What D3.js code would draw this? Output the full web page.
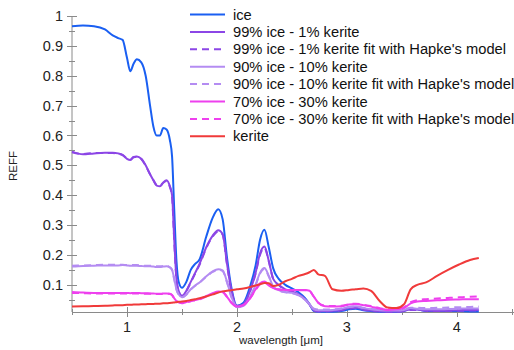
<!DOCTYPE html>
<html>
<head>
<meta charset="utf-8">
<script src="https://cdn.jsdelivr.net/npm/d3@7"></script>
<style>
  body { margin: 0; background: #fff; }
  svg { font-family: "Liberation Sans", Arial, Helvetica, sans-serif; }
</style>
</head>
<body>
<svg width="514" height="350"></svg>
<script>
// wavelength grid (micrometres)
var wavelength = [0.50, 0.60, 0.70, 0.80, 0.87, 0.92, 0.96, 1.00, 1.03, 1.06,
  1.09, 1.13, 1.17, 1.21, 1.24, 1.27, 1.30, 1.33, 1.36, 1.39,
  1.41, 1.43, 1.45, 1.47, 1.50, 1.54, 1.58, 1.62, 1.66, 1.72,
  1.78, 1.83, 1.87, 1.91, 1.95, 2.00, 2.06, 2.12, 2.17, 2.21,
  2.25, 2.29, 2.33, 2.38, 2.44, 2.50, 2.56, 2.62, 2.66, 2.70,
  2.74, 2.80, 2.87, 2.95, 3.02, 3.08, 3.15, 3.22, 3.30, 3.37,
  3.45, 3.52, 3.58, 3.64, 3.72, 3.82, 3.92, 4.02, 4.12, 4.20];

var ice = [0.966, 0.968, 0.966, 0.955, 0.935, 0.926, 0.92, 0.86, 0.815, 0.84,
  0.855, 0.845, 0.80, 0.70, 0.63, 0.60, 0.60, 0.625, 0.62, 0.585,
  0.53, 0.35, 0.18, 0.11, 0.09, 0.11, 0.15, 0.17, 0.185, 0.26,
  0.325, 0.353, 0.32, 0.19, 0.09, 0.03, 0.04, 0.095, 0.165, 0.25,
  0.284, 0.225, 0.155, 0.12, 0.10, 0.088, 0.075, 0.055, 0.035, 0.012,
  0.01, 0.01, 0.01, 0.012, 0.018, 0.02, 0.015, 0.012, 0.01, 0.01,
  0.01, 0.012, 0.02, 0.018, 0.012, 0.012, 0.012, 0.012, 0.011, 0.011];

var ice99 = [0.546, 0.537, 0.54, 0.542, 0.542, 0.54, 0.535, 0.522, 0.518, 0.528,
  0.53, 0.522, 0.50, 0.47, 0.45, 0.432, 0.43, 0.443, 0.45, 0.43,
  0.40, 0.25, 0.12, 0.08, 0.062, 0.08, 0.11, 0.14, 0.17, 0.225,
  0.265, 0.283, 0.27, 0.17, 0.08, 0.028, 0.035, 0.08, 0.14, 0.205,
  0.228, 0.18, 0.12, 0.10, 0.085, 0.078, 0.068, 0.052, 0.035, 0.015,
  0.012, 0.012, 0.013, 0.016, 0.022, 0.024, 0.018, 0.014, 0.012, 0.011,
  0.011, 0.013, 0.018, 0.017, 0.014, 0.013, 0.014, 0.015, 0.016, 0.016];

var ice99Fit = [0.544, 0.538, 0.541, 0.541, 0.541, 0.539, 0.534, 0.523, 0.519, 0.527,
  0.529, 0.521, 0.499, 0.47, 0.451, 0.434, 0.431, 0.442, 0.448, 0.428,
  0.395, 0.245, 0.118, 0.079, 0.063, 0.079, 0.108, 0.138, 0.167, 0.222,
  0.262, 0.279, 0.268, 0.168, 0.079, 0.029, 0.036, 0.079, 0.138, 0.2,
  0.224, 0.178, 0.12, 0.099, 0.084, 0.077, 0.067, 0.051, 0.034, 0.014,
  0.011, 0.011, 0.012, 0.015, 0.02, 0.022, 0.017, 0.013, 0.011, 0.01,
  0.01, 0.012, 0.016, 0.016, 0.013, 0.012, 0.013, 0.013, 0.014, 0.014];

var ice90 = [0.161, 0.163, 0.164, 0.165, 0.165, 0.165, 0.166, 0.165, 0.164, 0.164,
  0.164, 0.163, 0.162, 0.162, 0.161, 0.16, 0.16, 0.161, 0.162, 0.158,
  0.15, 0.12, 0.085, 0.068, 0.058, 0.068, 0.085, 0.098, 0.108, 0.128,
  0.145, 0.152, 0.148, 0.11, 0.06, 0.025, 0.03, 0.06, 0.10, 0.14,
  0.156, 0.13, 0.094, 0.082, 0.076, 0.073, 0.066, 0.05, 0.035, 0.018,
  0.015, 0.015, 0.016, 0.02, 0.026, 0.028, 0.022, 0.018, 0.015, 0.014,
  0.014, 0.016, 0.022, 0.02, 0.018, 0.018, 0.019, 0.02, 0.021, 0.021];

var ice90Fit = [0.164, 0.165, 0.166, 0.167, 0.167, 0.167, 0.167, 0.166, 0.166, 0.166,
  0.166, 0.165, 0.164, 0.164, 0.163, 0.162, 0.162, 0.163, 0.163, 0.159,
  0.15, 0.118, 0.084, 0.067, 0.058, 0.067, 0.084, 0.097, 0.107, 0.127,
  0.143, 0.15, 0.146, 0.108, 0.059, 0.026, 0.031, 0.06, 0.099, 0.138,
  0.153, 0.128, 0.093, 0.081, 0.075, 0.072, 0.065, 0.05, 0.036, 0.02,
  0.017, 0.017, 0.018, 0.021, 0.026, 0.028, 0.023, 0.019, 0.017, 0.016,
  0.016, 0.018, 0.023, 0.023, 0.022, 0.023, 0.024, 0.025, 0.026, 0.027];

var ice70 = [0.076, 0.074, 0.073, 0.073, 0.073, 0.073, 0.073, 0.073, 0.072, 0.073,
  0.073, 0.072, 0.072, 0.071, 0.071, 0.07, 0.07, 0.071, 0.071, 0.07,
  0.066, 0.055, 0.046, 0.042, 0.039, 0.042, 0.046, 0.049, 0.052, 0.062,
  0.072, 0.078, 0.077, 0.06, 0.04, 0.027, 0.032, 0.055, 0.085, 0.105,
  0.111, 0.10, 0.089, 0.085, 0.083, 0.083, 0.083, 0.083, 0.08, 0.06,
  0.04, 0.028, 0.027, 0.028, 0.034, 0.036, 0.032, 0.027, 0.02, 0.016,
  0.018, 0.022, 0.038, 0.044, 0.046, 0.048, 0.05, 0.051, 0.052, 0.052];

var ice70Fit = [0.073, 0.072, 0.071, 0.071, 0.071, 0.071, 0.071, 0.071, 0.071, 0.071,
  0.071, 0.071, 0.07, 0.07, 0.07, 0.069, 0.069, 0.07, 0.07, 0.069,
  0.065, 0.054, 0.045, 0.041, 0.038, 0.041, 0.045, 0.048, 0.051, 0.061,
  0.07, 0.076, 0.075, 0.059, 0.04, 0.028, 0.033, 0.055, 0.083, 0.102,
  0.108, 0.098, 0.088, 0.084, 0.082, 0.082, 0.082, 0.082, 0.079, 0.06,
  0.04, 0.03, 0.029, 0.03, 0.035, 0.037, 0.033, 0.029, 0.022, 0.018,
  0.02, 0.025, 0.042, 0.049, 0.052, 0.054, 0.056, 0.058, 0.06, 0.061];

var kerite = [0.027, 0.028, 0.029, 0.03, 0.031, 0.032, 0.032, 0.033, 0.033, 0.034,
  0.034, 0.035, 0.035, 0.036, 0.036, 0.037, 0.037, 0.038, 0.038, 0.039,
  0.04, 0.041, 0.042, 0.043, 0.044, 0.046, 0.049, 0.052, 0.055, 0.061,
  0.068, 0.074, 0.078, 0.08, 0.082, 0.085, 0.088, 0.093, 0.098, 0.102,
  0.106, 0.105, 0.096, 0.1, 0.112, 0.12, 0.13, 0.136, 0.142, 0.15,
  0.135, 0.13, 0.085, 0.08, 0.083, 0.085, 0.088, 0.08, 0.045, 0.024,
  0.022, 0.035, 0.085, 0.1, 0.108, 0.13, 0.15, 0.168, 0.183, 0.19];

var seriesNames = ["ice", "99% ice - 1% kerite", "99% ice - 1% kerite fit with Hapke's model",
  "90% ice - 10% kerite", "90% ice - 10% kerite fit with Hapke's model",
  "70% ice - 30% kerite", "70% ice - 30% kerite fit with Hapke's model", "kerite"];
var seriesValues = [ice, ice99, ice99Fit, ice90, ice90Fit, ice70, ice70Fit, kerite];
var seriesColors = ["#1a5ff2", "#8c46e6", "#8c46e6", "#b48cf2", "#b48cf2", "#ee40ee", "#ee40ee", "#f03a3a"];
var seriesDashed = [false, false, true, false, true, false, true, false];

var xTicks = [1, 2, 3, 4];
var yTicks = [0.1, 0.2, 0.3, 0.4, 0.5, 0.6, 0.7, 0.8, 0.9, 1];

var svg = d3.select("svg");

var x = d3.scaleLinear().domain([0.5, 4.52]).range([72, 514]);
var y = d3.scaleLinear().domain([0.009, 1]).range([312, 16]);

var axisColor = "#8a8a8a";

// y axis
svg.append("line")
  .attr("x1", x(0.5)).attr("x2", x(0.5))
  .attr("y1", y(0.009)).attr("y2", y(1))
  .attr("stroke", axisColor);

var yMinor = d3.range(0.05, 1.0, 0.1);
svg.selectAll(".yminor").data(yMinor).enter().append("line")
  .attr("x1", x(0.5) - 3).attr("x2", x(0.5) + 3)
  .attr("y1", function(d) { return Math.round(y(d)) + 0.5; })
  .attr("y2", function(d) { return Math.round(y(d)) + 0.5; })
  .attr("stroke", axisColor);

svg.selectAll(".ymajor").data(yTicks).enter().append("line")
  .attr("x1", x(0.5) - 5).attr("x2", x(0.5) + 5)
  .attr("y1", function(d) { return Math.round(y(d)) + 0.5; })
  .attr("y2", function(d) { return Math.round(y(d)) + 0.5; })
  .attr("stroke", axisColor);

svg.selectAll(".ylabel").data(yTicks).enter().append("text")
  .attr("x", 63)
  .attr("y", function(d) { return y(d); })
  .attr("dy", "0.35em")
  .attr("text-anchor", "end")
  .attr("font-size", 14.5)
  .attr("fill", "#222")
  .text(function(d) { return d3.format("")(d); });

// x axis
svg.append("line")
  .attr("x1", x(0.5)).attr("x2", 514)
  .attr("y1", 312.5).attr("y2", 312.5)
  .attr("stroke", axisColor);

var xMinor = [0.5, 1.5, 2.5, 3.5, 4.5];
svg.selectAll(".xminor").data(xMinor).enter().append("line")
  .attr("x1", function(d) { return Math.round(x(d)) + 0.5; })
  .attr("x2", function(d) { return Math.round(x(d)) + 0.5; })
  .attr("y1", 309).attr("y2", 315)
  .attr("stroke", axisColor);

svg.selectAll(".xmajor").data(xTicks).enter().append("line")
  .attr("x1", function(d) { return Math.round(x(d)) + 0.5; })
  .attr("x2", function(d) { return Math.round(x(d)) + 0.5; })
  .attr("y1", 307).attr("y2", 317)
  .attr("stroke", axisColor);

svg.selectAll(".xlabel").data(xTicks).enter().append("text")
  .attr("x", function(d) { return x(d); })
  .attr("y", 332)
  .attr("text-anchor", "middle")
  .attr("font-size", 14.5)
  .attr("fill", "#222")
  .text(function(d) { return d; });

svg.append("text")
  .attr("x", 281).attr("y", 344)
  .attr("text-anchor", "middle")
  .attr("font-size", 11.5)
  .attr("fill", "#222")
  .text("wavelength [μm]");

svg.append("text")
  .attr("transform", "translate(16.5,166) rotate(-90)")
  .attr("text-anchor", "middle")
  .attr("font-size", 11.5)
  .attr("fill", "#222")
  .text("REFF");

// curves
var line = d3.line()
  .x(function(d) { return x(d[0]); })
  .y(function(d) { return y(d[1]); })
  .curve(d3.curveMonotoneX);

seriesValues.forEach(function(vals, i) {
  var pts = wavelength.map(function(w, j) { return [w, vals[j]]; });
  svg.append("path")
    .attr("d", line(pts))
    .attr("fill", "none")
    .attr("stroke", seriesColors[i])
    .attr("stroke-width", 2)
    .attr("stroke-dasharray", seriesDashed[i] ? "7,5" : null);
});

// legend
var legend = svg.selectAll(".legend").data(seriesNames).enter().append("g")
  .attr("transform", function(d, i) { return "translate(190," + (14.5 + i * 17.4) + ")"; });

legend.append("line")
  .attr("x1", 0).attr("x2", 35)
  .attr("stroke", function(d, i) { return seriesColors[i]; })
  .attr("stroke-width", 2)
  .attr("stroke-dasharray", function(d, i) { return seriesDashed[i] ? "7,5" : null; });

legend.append("text")
  .attr("x", 43)
  .attr("dy", "0.35em")
  .attr("font-size", 14.7)
  .attr("fill", "#111")
  .text(function(d) { return d; });
</script>
</body>
</html>
